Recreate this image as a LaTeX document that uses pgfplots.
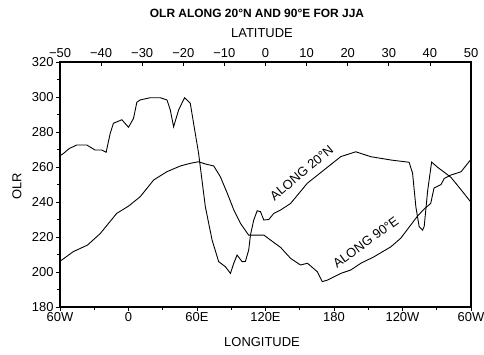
\documentclass[border=0pt]{standalone}
\usepackage{fontspec}
\setmainfont{Liberation Sans}
\usepackage{pgfplots}
\pgfplotsset{compat=1.18}
\begin{document}
\begin{tikzpicture}[x=1bp,y=1bp]
\useasboundingbox (-60,-47) rectangle (424,307);
\begin{axis}[at={(0,0)},anchor=south west,scale only axis,
  width=411bp,height=245bp,
  xmin=-60,xmax=300,ymin=180,ymax=320,
  xtick={-60,0,60,120,180,240,300},
  xticklabels={60W,0,60E,120E,180,120W,60W},
  minor x tick num=1,
  ytick={180,200,...,320}, minor y tick num=1,
  xtick pos=left, ytick pos=left, tick align=outside,
  major tick length=4bp, minor tick length=3bp,
  axis line style={line width=1.3pt},
  every tick/.style={line width=0.8pt,black},
  /pgf/number format/assume math mode=true,
  tick label style={font=\fontsize{13}{14}\selectfont},
  xticklabel style={yshift=2bp},
  yticklabel style={xshift=1bp},
  clip=false]
\addplot[black,line width=0.9pt] coordinates {
(-60,266.5)(-57.6,267.4)(-52,270.5)(-45.3,272.6)(-36.6,272.6)(-29.3,269.7)(-23.4,269.7)(-19.6,268.4)
(-16.1,279)(-13.2,285)(-5.8,287)(0.0,282.7)(4.4,287.8)(7.3,297)(10.2,298.3)(19.0,299.6)
(27.8,299.6)(33.7,298.3)(36.6,292.6)(39.5,283)(43.9,292.6)(49.1,299.6)(54.1,296.4)(57.0,285)
(61.4,267.8)(67.3,237.3)(73.2,218.3)(79.0,205.9)(84.9,203)(89.3,199.2)(92.2,205)(95.1,209.7)
(99.5,205.9)(102.4,206)(105.3,212.6)(106.8,221.1)(109.7,229.7)(112.7,235)(115.6,234.5)
(118.5,229.7)(122.9,230)(127.3,233.5)(133.2,235.4)(142.0,239.2)(156.6,250.7)(171.2,258.3)
(185.9,265.9)(199.0,268.7)(212.2,265.9)(229.8,264)(245.8,262.7)(248.8,256.5)(251.7,237.3)
(254.6,225.9)(257.6,224)(259.0,226)(262.0,246.3)(265.5,262.8)(270.8,259.8)(276.6,257)
(282.4,254.1)(288.3,249.4)(294.1,244.7)(300,239.8)};
\node[rotate=40,font=\fontsize{13}{14}\selectfont] at (axis cs:151.6,256.6) {ALONG 20°N};
\node[rotate=36,font=\fontsize{13}{14}\selectfont] at (axis cs:207.8,217.1) {ALONG 90°E};
\end{axis}
\begin{axis}[at={(0,0)},anchor=south west,scale only axis,
  width=411bp,height=245bp,
  xmin=-50,xmax=50,ymin=180,ymax=320,
  axis x line*=top, hide y axis,
  xtick={-50,-40,...,50},
  xticklabels={{−50},{−40},{−30},{−20},{−10},0,10,20,30,40,50},
  tick align=inside, major tick length=4bp,
  axis line style={line width=1.1pt},
  every tick/.style={line width=0.8pt,black},
  tick label style={font=\fontsize{13}{14}\selectfont},
  xticklabel style={yshift=1bp}]
\addplot[black,line width=0.9pt] coordinates {
(-50,206.2)(-49.3,207.3)(-46.8,211.6)(-43.3,215.4)(-40.2,222)(-36.2,233.5)(-33.3,237.7)(-30.5,243)
(-27.2,252.6)(-24.0,257.3)(-20.7,260.6)(-18.3,262.1)(-16.3,263)(-14.6,261.7)(-12.6,260.6)
(-11.0,254.5)(-9.3,245)(-7.7,235.4)(-6.1,227.8)(-4.1,221.1)(-2.0,221.1)(-0.4,221.1)(1.2,218.3)
(3.7,214)(6.1,207.8)(8.5,204)(10.2,205)(12.6,200.2)(13.8,194.5)(15.1,195.4)(18.3,199.2)
(20.7,201.1)(23.2,205)(26.4,208.7)(30.5,214.4)(32.9,219.3)(37.0,232)(38.6,236)(40.2,239.2)
(41.0,248)(42.7,250)(43.5,253.5)(45.1,255.4)(47.6,257.3)(48.5,260)(50,264.4)};
\end{axis}
\node[font=\bfseries\fontsize{12}{14}\selectfont] at (197,294) {OLR ALONG 20°N AND 90°E FOR JJA};
\node[font=\fontsize{13}{14}\selectfont] at (202,274) {LATITUDE};
\node[font=\fontsize{13}{14}\selectfont] at (202,-35) {LONGITUDE};
\node[rotate=90,font=\fontsize{13}{14}\selectfont] at (-43,121) {OLR};
\end{tikzpicture}
\end{document}
